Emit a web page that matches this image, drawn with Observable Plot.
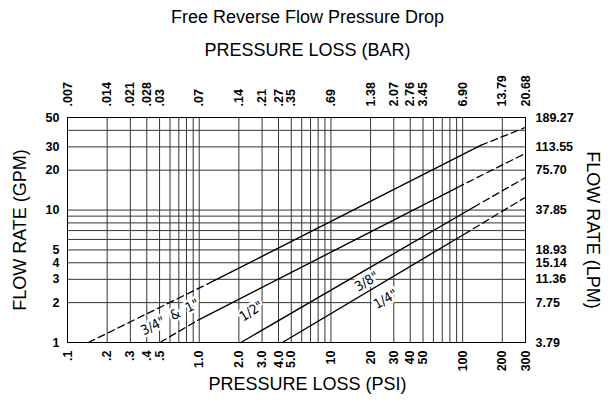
<!DOCTYPE html>
<html>
<head>
<meta charset="utf-8">
<script src="https://cdn.jsdelivr.net/npm/d3@7"></script>
<script src="https://cdn.jsdelivr.net/npm/@observablehq/plot@0.6"></script>
<style>
  html, body { margin: 0; padding: 0; background: #fff; }
  #chart svg { display: block; }
</style>
</head>
<body>
<div id="chart"></div>
<script>
// ---- Data ----
const title = "Free Reverse Flow Pressure Drop";
const series = ['3/4"  &  1"', '1/2"', '3/8"', '1/4"'];
// break points along each curve (PSI, GPM)
const curvePsi = [
  [0.144, 1.22, 137, 300],
  [0.504, 0.974, 91, 300],
  [2.07, 121, 300],
  [4.28, 102, 300]
];
const curveGpm = [
  [1, 2.84, 30.8, 42.1],
  [1, 1.47, 14.8, 26.8],
  [1, 10.5, 17.6],
  [1, 6.54, 12.5]
];
// dashed (true) or solid (false) for each segment between break points
const curveDashed = [
  [true, false, true],
  [true, false, true],
  [false, true],
  [false, true]
];
const labelPsi = [0.6, 2.49, 18.7, 26];
const labelGpm = [1.55, 1.72, 2.88, 2.12];
const labelAngle = [-27, -33, -31, -30];

const psiTicks = [0.1, 0.2, 0.3, 0.4, 0.5, 1, 2, 3, 4, 5, 10, 20, 30, 40, 50, 100, 200, 300];
const psiLabels = [".1", ".2", ".3", ".4", ".5", "1.0", "2.0", "3.0", "4.0", "5.0", "10", "20", "30", "40", "50", "100", "200", "300"];
const barLabels = [".007", ".014", ".021", ".028", ".03", ".07", ".14", ".21", ".27", ".35", ".69", "1.38", "2.07", "2.76", "3.45", "6.90", "13.79", "20.68"];
const gpmTicks = [1, 2, 3, 4, 5, 10, 20, 30, 50];
const gpmLabels = ["1", "2", "3", "4", "5", "10", "20", "30", "50"];
const lpmLabels = ["3.79", "7.75", "11.36", "15.14", "18.93", "37.85", "75.70", "113.55", "189.27"];
const psiGrid = [0.1, 0.2, 0.3, 0.4, 0.5, 0.6, 0.7, 0.8, 0.9, 1, 2, 3, 4, 5, 6, 7, 8, 9, 10, 20, 30, 40, 50, 60, 70, 80, 90, 100, 200, 300];
const gpmGrid = [1, 2, 3, 4, 5, 6, 7, 8, 9, 10, 20, 30, 40, 50];

// ---- Build segment table ----
const segs = [];
series.forEach((s, i) => {
  for (let j = 0; j < curvePsi[i].length - 1; j++) {
    for (const k of [j, j + 1]) {
      segs.push({seg: i + "-" + j, psi: curvePsi[i][k], gpm: curveGpm[i][k], dashed: curveDashed[i][j]});
    }
  }
});
const labels = series.map((s, i) => ({text: s, psi: labelPsi[i], gpm: labelGpm[i], angle: labelAngle[i]}));

const font = "'Liberation Sans', Arial, Helvetica, sans-serif";
const tick = {fontWeight: "bold", fontSize: 12.5, fill: "black"};
const titleFont = {fontSize: 18, fill: "black"};

const chart = Plot.plot({
  width: 612,
  height: 402,
  marginLeft: 67,
  marginRight: 87,
  marginTop: 117,
  marginBottom: 60,
  style: {fontFamily: font, background: "white", color: "black"},
  x: {type: "log", domain: [0.1, 300], axis: null},
  y: {type: "log", domain: [1, 50], axis: null},
  marks: [
    Plot.ruleX(psiGrid, {x: d => d, stroke: "#333", strokeWidth: 1}),
    Plot.ruleY(gpmGrid, {y: d => d, stroke: "#333", strokeWidth: 1}),
    Plot.frame({stroke: "black", strokeWidth: 1}),
    Plot.line(segs.filter(d => !d.dashed), {x: "psi", y: "gpm", z: "seg", stroke: "black", strokeWidth: 1.4}),
    Plot.line(segs.filter(d => d.dashed), {x: "psi", y: "gpm", z: "seg", stroke: "black", strokeWidth: 1.3, strokeDasharray: "7,4"}),
    Plot.text(labels, {x: "psi", y: "gpm", text: "text", rotate: "angle", fontSize: 13.5,
      fontFamily: "'Liberation Sans Narrow', 'DejaVu Sans Condensed', 'Liberation Sans', sans-serif",
      fill: "black", stroke: "white", strokeWidth: 5}),
    // bottom PSI tick labels
    Plot.text(psiTicks, {x: d => d, frameAnchor: "bottom", text: (d, i) => psiLabels[i],
      rotate: -90, textAnchor: "end", lineAnchor: "middle", dy: 8, ...tick}),
    // top BAR tick labels
    Plot.text(psiTicks, {x: d => d, frameAnchor: "top", text: (d, i) => barLabels[i],
      rotate: -90, textAnchor: "start", lineAnchor: "middle", dy: -11, ...tick}),
    // left GPM tick labels
    Plot.text(gpmTicks, {y: d => d, frameAnchor: "left", text: (d, i) => gpmLabels[i],
      textAnchor: "end", lineAnchor: "middle", dx: -8, ...tick}),
    // right LPM tick labels
    Plot.text(gpmTicks, {y: d => d, frameAnchor: "right", text: (d, i) => lpmLabels[i],
      textAnchor: "start", lineAnchor: "middle", dx: 10, ...tick}),
    Plot.text([title], {text: d => d, frameAnchor: "top", lineAnchor: "middle", dx: 11, dy: -100, ...titleFont}),
    Plot.text(["PRESSURE LOSS (BAR)"], {text: d => d, frameAnchor: "top", lineAnchor: "middle", dx: 11, dy: -67, ...titleFont}),
    Plot.text(["PRESSURE LOSS (PSI)"], {text: d => d, frameAnchor: "bottom", lineAnchor: "middle", dx: 11, dy: 42, ...titleFont}),
    Plot.text(["FLOW RATE (GPM)"], {text: d => d, frameAnchor: "left", lineAnchor: "middle", textAnchor: "middle", dx: -47, rotate: -90, ...titleFont}),
    Plot.text(["FLOW RATE (LPM)"], {text: d => d, frameAnchor: "right", lineAnchor: "middle", textAnchor: "middle", dx: 67, rotate: 90, ...titleFont})
  ]
});
document.getElementById("chart").appendChild(chart);
</script>
</body>
</html>
